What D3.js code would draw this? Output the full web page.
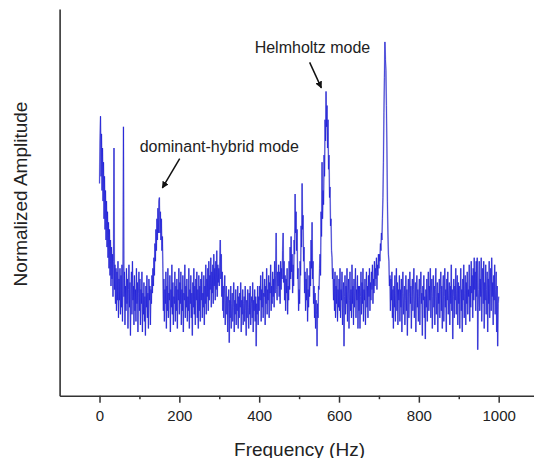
<!DOCTYPE html>
<html>
<head>
<meta charset="utf-8">
<script src="https://cdn.jsdelivr.net/npm/d3@7"></script>
<style>
  body { margin: 0; background: #fff; }
  svg { display: block; font-family: Arial, "Liberation Sans", sans-serif; }
</style>
</head>
<body>
<svg id="chart"></svg>
<script>
// Spectrum sampled every 1.25 Hz from 0 to 1000 Hz (normalized amplitude, tallest peak = 100)
const freqStart = 0;
const freqStep = 1.25;
const amplitude = [
  // 0 - 48.75
  60, 72, 79, 62, 74, 58, 70, 55, 66, 50, 62, 47, 58, 44, 55, 42, 52, 39, 49, 36,
  47, 34, 44, 31, 42, 33, 40, 28, 38, 70, 30, 37, 26, 36, 24, 35, 27, 38, 22, 33,
  // 50 - 98.75
  27, 36, 23, 34, 25, 37, 21, 33, 76, 28, 35, 20, 31, 24, 36, 26, 33, 19, 30, 37,
  25, 32, 17, 29, 35, 23, 38, 27, 31, 20, 34, 24, 30, 21, 36, 26, 32, 18, 29, 35,
  // 100 - 148.75
  24, 33, 20, 30, 26, 35, 18, 29, 23, 32, 21, 28, 17, 31, 25, 34, 22, 29, 19, 33,
  27, 31, 20, 30, 26, 34, 29, 36, 31, 39, 34, 43, 38, 47, 41, 50, 44, 53, 46, 55,
  // 150 - 198.75
  56, 46, 52, 44, 50, 41, 45, 36, 24, 33, 21, 30, 26, 35, 19, 31, 24, 36, 22, 29,
  27, 34, 18, 30, 25, 37, 23, 32, 20, 28, 26, 35, 21, 31, 24, 33, 19, 30, 27, 36,
  // 200 - 248.75
  23, 32, 26, 35, 20, 30, 24, 34, 18, 29, 27, 37, 22, 31, 25, 33, 21, 28, 24, 36,
  19, 30, 26, 34, 22, 29, 17, 32, 25, 36, 23, 31, 20, 33, 27, 35, 22, 30, 19, 34,
  // 250 - 298.75
  24, 31, 21, 33, 27, 35, 22, 29, 25, 34, 20, 31, 26, 37, 23, 33, 28, 36, 24, 38,
  27, 34, 30, 39, 25, 35, 29, 37, 26, 40, 31, 36, 27, 38, 30, 41, 28, 37, 32, 36,
  // 300 - 348.75
  31, 38, 44, 33, 40, 28, 35, 24, 31, 22, 29, 34, 20, 27, 31, 23, 28, 18, 26, 30,
  15, 27, 22, 31, 19, 26, 29, 21, 25, 32, 18, 27, 23, 30, 20, 26, 24, 31, 19, 28,
  // 350 - 398.75
  22, 29, 25, 32, 18, 27, 23, 30, 20, 26, 28, 21, 31, 24, 17, 27, 22, 30, 25, 19,
  29, 23, 31, 20, 26, 28, 22, 32, 18, 27, 24, 30, 21, 28, 14, 26, 23, 31, 20, 28,
  // 400 - 448.75
  24, 31, 27, 34, 21, 30, 25, 35, 22, 29, 28, 33, 20, 31, 26, 36, 23, 30, 27, 34,
  22, 32, 29, 37, 24, 31, 26, 35, 28, 33, 25, 38, 29, 34, 46, 30, 27, 35, 31, 37,
  // 450 - 498.75
  28, 35, 26, 38, 30, 36, 33, 41, 46, 32, 38, 27, 34, 24, 33, 29, 36, 23, 31, 27,
  38, 30, 42, 33, 45, 35, 40, 29, 37, 31, 44, 40, 57, 46, 52, 41, 47, 33, 36, 24,
  // 500 - 548.75
  30, 26, 38, 34, 48, 42, 60, 47, 51, 38, 42, 29, 35, 24, 33, 27, 36, 21, 30, 25,
  34, 28, 38, 31, 44, 36, 49, 33, 38, 26, 31, 22, 29, 19, 27, 23, 14, 26, 22, 31,
  // 550 - 598.75
  30, 36, 40, 34, 52, 45, 66, 50, 58, 54, 68, 62, 78, 72, 86, 76, 82, 70, 78, 64,
  68, 56, 59, 48, 50, 41, 39, 33, 36, 27, 33, 24, 35, 22, 31, 26, 34, 21, 30, 25,
  // 600 - 648.75
  33, 24, 36, 22, 30, 27, 35, 20, 29, 32, 14, 28, 34, 23, 31, 26, 36, 21, 29, 33,
  19, 27, 35, 24, 30, 22, 37, 26, 31, 20, 33, 25, 29, 36, 22, 30, 27, 34, 19, 31,
  // 650 - 698.75
  24, 31, 19, 28, 35, 23, 32, 26, 36, 21, 30, 27, 33, 20, 29, 35, 25, 31, 22, 34,
  28, 36, 24, 32, 27, 35, 30, 37, 26, 33, 29, 38, 31, 36, 33, 39, 30, 37, 34, 40,
  // 700 - 748.75
  36, 40, 38, 43, 41, 46, 44, 50, 56, 66, 80, 90, 100, 95, 92, 82, 70, 55, 46, 40,
  38, 31, 34, 24, 33, 27, 35, 22, 30, 19, 31, 25, 34, 21, 29, 36, 24, 32, 20, 30,
  // 750 - 798.75
  27, 34, 21, 30, 25, 33, 18, 29, 35, 23, 28, 31, 20, 27, 34, 24, 30, 17, 28, 33,
  22, 29, 35, 26, 31, 19, 28, 33, 24, 30, 36, 22, 27, 32, 18, 29, 34, 25, 30, 21,
  // 800 - 848.75
  28, 33, 20, 30, 35, 26, 29, 17, 31, 27, 34, 22, 28, 16, 30, 25, 33, 21, 29, 35,
  24, 31, 27, 36, 22, 29, 33, 19, 28, 34, 25, 31, 20, 30, 36, 23, 28, 32, 18, 29,
  // 850 - 898.75
  26, 33, 22, 30, 35, 24, 31, 19, 29, 34, 21, 28, 36, 25, 30, 18, 33, 27, 35, 23,
  29, 32, 20, 31, 26, 37, 24, 30, 16, 28, 33, 22, 31, 27, 36, 23, 29, 34, 20, 32,
  // 900 - 948.75
  26, 31, 19, 29, 36, 24, 30, 18, 33, 27, 37, 22, 29, 34, 20, 32, 26, 35, 23, 30,
  28, 37, 21, 31, 25, 38, 29, 34, 22, 36, 27, 39, 30, 35, 24, 38, 28, 39, 13, 25,
  // 950 - 998.75
  30, 38, 24, 33, 28, 39, 21, 31, 36, 26, 38, 19, 32, 27, 37, 23, 30, 35, 18, 33,
  26, 38, 22, 31, 36, 24, 39, 28, 32, 20, 34, 27, 37, 23, 30, 35, 18, 31, 14, 26,
  // 1000
  28
];

const majorTicks = [0, 200, 400, 600, 800, 1000];
const minorTicks = [100, 300, 500, 700, 900];

const annotations = [
  { label: "dominant-hybrid mode", freq: 150, amp: 56 },
  { label: "Helmholtz mode", freq: 567.5, amp: 86 }
];

const width = 534, height = 458;

const svg = d3.select("#chart")
  .attr("width", width)
  .attr("height", height);

const x = d3.scaleLinear().domain([-100, 1100]).range([59.6, 538.6]);
const y = d3.scaleLinear().domain([0, 109.3]).range([395.7, 9]);

const points = amplitude.map((a, i) => [freqStart + i * freqStep, a]);

const line = d3.line()
  .x(d => x(d[0]))
  .y(d => y(d[1]));

// soft halo, then the main trace
svg.append("path")
  .datum(points)
  .attr("fill", "none")
  .attr("stroke", "#a4a4d8")
  .attr("stroke-width", 1.6)
  .attr("stroke-opacity", 0.8)
  .attr("d", line);

svg.append("path")
  .datum(points)
  .attr("fill", "none")
  .attr("stroke", "#1a1ad8")
  .attr("stroke-width", 0.7)
  .attr("d", line);

// x axis: major + minor ticks
const xAxis = svg.append("g")
  .attr("transform", `translate(0,${y(0)})`)
  .call(d3.axisBottom(x).tickValues(majorTicks).tickFormat(d3.format("d"))
    .tickSize(7).tickSizeOuter(0).tickPadding(8));

svg.append("g")
  .attr("transform", `translate(0,${y(0)})`)
  .call(d3.axisBottom(x).tickValues(minorTicks).tickSize(3.5).tickFormat(""))
  .call(g => g.select(".domain").remove());

// y axis: plain line, no ticks
svg.append("g")
  .attr("transform", `translate(${x(-100)},0)`)
  .call(d3.axisLeft(y).tickValues([]).tickSizeOuter(0));

svg.selectAll(".domain").attr("stroke", "#333").attr("stroke-width", 1.6);
svg.selectAll(".tick line").attr("stroke", "#333").attr("stroke-width", 1.5);
xAxis.selectAll(".tick text")
  .attr("fill", "#222")
  .style("font-size", "15px")
  .style("font-family", "Arial, 'Liberation Sans', sans-serif");

// axis titles
svg.append("text")
  .attr("x", 299.5)
  .attr("y", 455.5)
  .attr("text-anchor", "middle")
  .attr("fill", "#222")
  .style("font-size", "19px")
  .text("Frequency (Hz)");

svg.append("text")
  .attr("transform", "rotate(-90)")
  .attr("x", -194)
  .attr("y", 26.5)
  .attr("text-anchor", "middle")
  .attr("fill", "#222")
  .style("font-size", "19px")
  .text("Normalized Amplitude");

// arrowhead marker
svg.append("defs").append("marker")
  .attr("id", "arrow")
  .attr("viewBox", "0 0 10 10")
  .attr("refX", 9)
  .attr("refY", 5)
  .attr("markerWidth", 7)
  .attr("markerHeight", 7)
  .attr("markerUnits", "userSpaceOnUse")
  .attr("orient", "auto")
  .append("path")
  .attr("d", "M0,0 L10,5 L0,10 Z")
  .attr("fill", "#111");

// annotation offsets from the peak they point at
const annoLayout = [
  { textDx: -19.7, textDy: -46, tailDx: 20.3, tailDy: -39, tipDx: 3, tipDy: -9.6 },
  { textDx: -71.4, textDy: -38, tailDx: -16.4, tailDy: -29, tipDx: -4.7, tipDy: -3.6 }
];

annotations.forEach((a, i) => {
  const px = x(a.freq), py = y(a.amp), l = annoLayout[i];
  svg.append("text")
    .attr("x", px + l.textDx)
    .attr("y", py + l.textDy)
    .attr("fill", "#222")
    .style("font-size", "16px")
    .text(a.label);
  svg.append("line")
    .attr("x1", px + l.tailDx)
    .attr("y1", py + l.tailDy)
    .attr("x2", px + l.tipDx)
    .attr("y2", py + l.tipDy)
    .attr("stroke", "#111")
    .attr("stroke-width", 1.5)
    .attr("marker-end", "url(#arrow)");
});
</script>
</body>
</html>
